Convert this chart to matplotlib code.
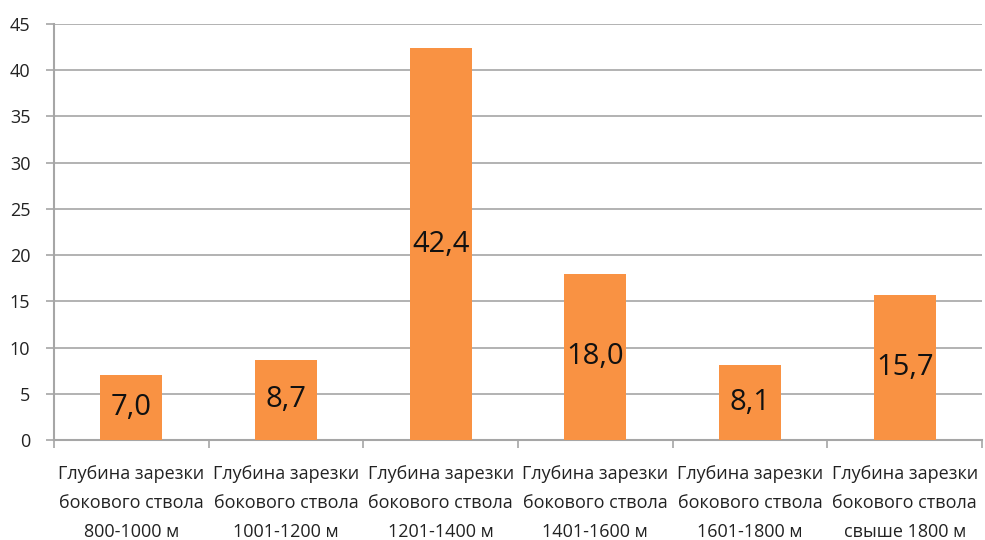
import matplotlib
matplotlib.use("Agg")
import matplotlib.pyplot as plt
import numpy as np

categories = [
    "Глубина зарезки\nбокового ствола\n800-1000 м",
    "Глубина зарезки\nбокового ствола\n1001-1200 м",
    "Глубина зарезки\nбокового ствола\n1201-1400 м",
    "Глубина зарезки\nбокового ствола\n1401-1600 м",
    "Глубина зарезки\nбокового ствола\n1601-1800 м",
    "Глубина зарезки\nбокового ствола\nсвыше 1800 м",
]
values = [7.0, 8.7, 42.4, 18.0, 8.1, 15.7]
y_ticks = [0, 5, 10, 15, 20, 25, 30, 35, 40, 45]

plt.rcParams["font.family"] = ["Open Sans", "DejaVu Sans"]

fig = plt.figure(figsize=(9.85, 5.4), dpi=100)
ax = fig.add_axes([0.0548, 0.1852, 0.9422, 0.7704])

x = np.arange(len(values))
bar_color = "#F99243"
grid_color = "#A6A6A6"
ax.bar(x, values, width=0.4, color=bar_color, zorder=3)

for xi, v in zip(x, values):
    ax.text(xi, v / 2, f"{v:.1f}".replace(".", ","),
            ha="center", va="center", fontsize=21, color="#111111", zorder=4)

ax.set_xlim(-0.5, len(values) - 0.5)
ax.set_ylim(0, 45)
ax.set_yticks(y_ticks)
ax.set_yticklabels([str(t) for t in y_ticks], fontsize=13, color="#222222")
ax.yaxis.grid(True, color=grid_color, linewidth=1.2, zorder=0)
ax.tick_params(axis="y", length=6, width=1.2, color=grid_color, pad=11)

# category boundaries carry the x tick marks; labels sit on minor ticks
ax.set_xticks(np.arange(-0.5, len(values), 1.0))
ax.set_xticklabels([])
ax.tick_params(axis="x", which="major", length=6, width=1.2, color=grid_color)
ax.set_xticks(x, minor=True)
ax.set_xticklabels(categories, minor=True, fontsize=13, color="#222222",
                   linespacing=1.8)
ax.tick_params(axis="x", which="minor", length=0, pad=18)

for side in ("top", "right"):
    ax.spines[side].set_visible(False)
for side in ("left", "bottom"):
    ax.spines[side].set_color(grid_color)
    ax.spines[side].set_linewidth(1.5)

fig.savefig("out.png", dpi=100)
